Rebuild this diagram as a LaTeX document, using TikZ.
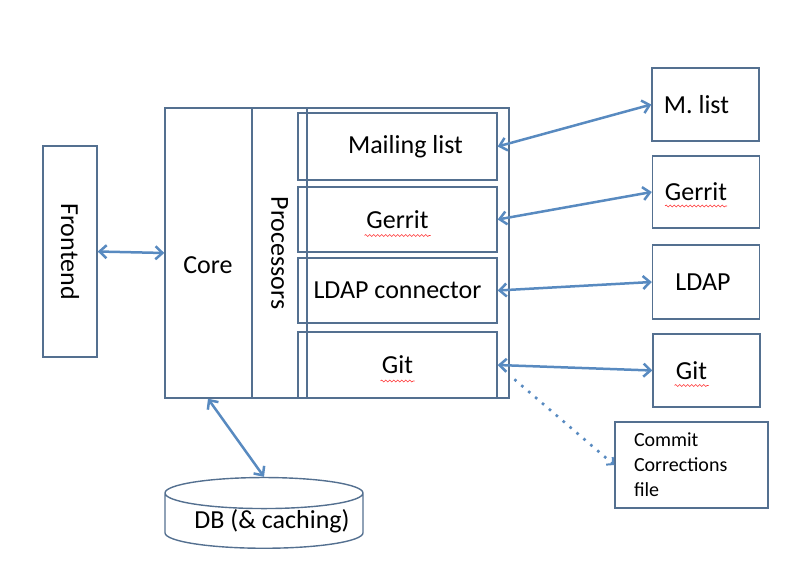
\documentclass[tikz,border=0pt]{standalone}
\usepackage{fontspec}
\setmainfont{Carlito}
\usetikzlibrary{arrows.meta}
\usetikzlibrary{shapes.geometric}
\usetikzlibrary{calc}
\usetikzlibrary{decorations.pathmorphing}
\definecolor{boxline}{RGB}{84,112,144}
\definecolor{linkblue}{RGB}{88,138,192}

\begin{document}
\begin{tikzpicture}[x=1pt, y=-1pt,
    box/.style={draw=boxline, line width=1.4pt, inner sep=0pt, font=\fontsize{26}{30}\selectfont},
    link/.style={draw=linkblue, line width=2.5pt, {Straight Barb[length=7pt,width=13pt]}-{Straight Barb[length=7pt,width=13pt]}},
    squig/.style={draw=red!80, line width=0.6pt, decorate, decoration={snake, amplitude=1pt, segment length=4pt}}]
    \useasboundingbox (0,0) rectangle (800,580);

    % left side
    \node[box, minimum width=54pt, minimum height=211pt] (frontend) at (70,251.5) {\rotatebox{-90}{Frontend}};
    \node[box, minimum width=344pt, minimum height=290pt] (corebox) at (337,253) {};
    \node[font=\fontsize{26}{30}\selectfont] (core) at (208,265) {Core};
    \node[box, minimum width=55pt, minimum height=290pt] (processors) at (279.5,253) {\rotatebox{-90}{Processors}};

    % processors
    \node[box, minimum width=199pt, minimum height=67pt] (mailp) at (397.5,146.5) {\kern16pt Mailing list};
    \node[box, minimum width=199pt, minimum height=65pt] (gerritp) at (397.5,219.5) {Gerrit};
    \node[box, minimum width=199pt, minimum height=65pt] (ldapp) at (397.5,290.5) {LDAP connector};
    \node[box, minimum width=199pt, minimum height=66pt] (gitp) at (397.5,365) {Git};

    % outside services
    \node[box, minimum width=107pt, minimum height=73pt] (mlist) at (705.5,104.5) {M. list\kern18pt};
    \node[box, minimum width=107pt, minimum height=72pt] (gerrit) at (706,192) {Gerrit\kern20pt};
    \node[box, minimum width=107pt, minimum height=74pt] (ldap) at (706,282) {LDAP\kern6pt};
    \node[box, minimum width=107pt, minimum height=73pt] (git) at (706.5,370.5) {Git\kern30pt};
    \node[box, minimum height=86pt, text width=115pt, inner xsep=19pt, align=left,
          font=\fontsize{20}{25}\selectfont] (commit) at (691.5,465) {Commit\\Corrections\\file};

    % database
    \node[draw=boxline, line width=1.4pt, shape=cylinder, shape border rotate=90, aspect=0.2,
          minimum width=198pt, minimum height=62pt, inner sep=0pt,
          font=\fontsize{26}{30}\selectfont] (db) at (264,521) {\phantom{DB (\& caching)}};
    \node[font=\fontsize{26}{30}\selectfont] (dbtext) at ($(db.center)+(8,0)$) {DB (\& caching)};

    % connectors
    \draw[link] (frontend.east) -- (corebox.west);
    \draw[link] (core |- corebox.south) -- (db.top);
    \draw[link] (mailp.east) -- (mlist.west);
    \draw[link] (gerritp.east) -- (gerrit.west);
    \draw[link] (ldapp.east) -- (ldap.west);
    \draw[link] (gitp.east) -- (git.west);
    \draw[draw=linkblue, line width=2.6pt, dash pattern=on 2.6pt off 6.5pt, shorten <=22pt,
          -{Straight Barb[length=5pt,width=10pt,line width=2pt]}] (gitp.east) -- (commit.west);

    % spell check marks
    \draw[squig] ($(gerritp.center)+(-33,16)$) -- ++(66,0);
    \draw[squig] ($(gitp.center)+(-17,16)$) -- ++(34,0);
    \draw[squig] ($(gerrit.center)+(-41,14)$) -- ++(62,0);
    \draw[squig] ($(git.center)+(-32,15)$) -- ++(34,0);
\end{tikzpicture}
\end{document}
